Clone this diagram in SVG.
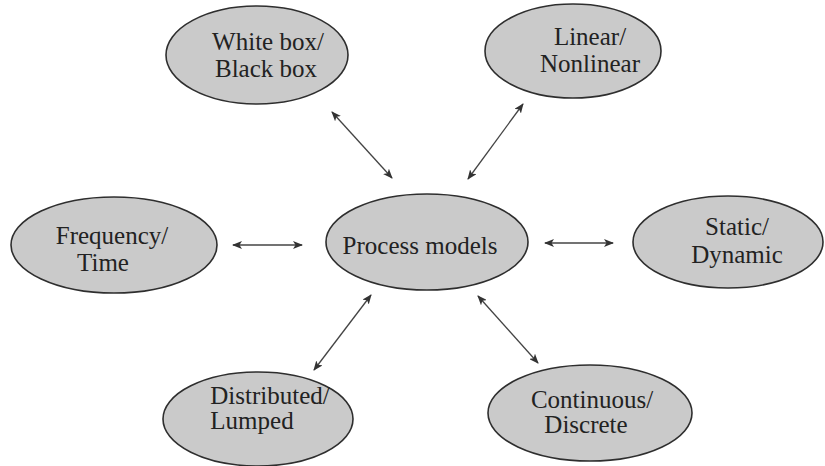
<svg xmlns="http://www.w3.org/2000/svg" width="825" height="466" viewBox="0 0 825 466">
  <style>
    .node ellipse { fill: #cacaca; stroke: #2e2e2e; stroke-width: 1.6; }
    .node text { font-family: "Liberation Serif", "Times New Roman", serif; font-size: 25px; fill: #222; text-anchor: middle; }
    .link { stroke: #444; stroke-width: 1.3; fill: none; marker-start: url(#head); marker-end: url(#head); }
  </style>
  <defs>
    <marker id="head" viewBox="0 0 10 8" refX="9" refY="4" markerWidth="10" markerHeight="8" markerUnits="userSpaceOnUse" orient="auto-start-reverse">
      <path d="M0,0 L10,4 L0,8 L2.5,4 Z" fill="#333"/>
    </marker>
  </defs>
  <rect width="825" height="466" fill="#ffffff"/>

  <g id="connectors">
    <line class="link" x1="332" y1="112" x2="392" y2="178"/>
    <line class="link" x1="523" y1="104" x2="468" y2="179"/>
    <line class="link" x1="233" y1="245" x2="302" y2="245"/>
    <line class="link" x1="545" y1="243" x2="613" y2="243"/>
    <line class="link" x1="371" y1="295" x2="314" y2="370"/>
    <line class="link" x1="478" y1="296" x2="538" y2="363"/>
  </g>

  <g id="process-models" class="node">
    <ellipse cx="427" cy="242" rx="101" ry="48"/>
    <text x="420" y="254">Process models</text>
  </g>

  <g id="white-black-box" class="node">
    <ellipse cx="257" cy="55" rx="91" ry="49"/>
    <text x="268" y="50">White box/</text>
    <text x="266" y="77">Black box</text>
  </g>

  <g id="linear-nonlinear" class="node">
    <ellipse cx="573" cy="51" rx="88" ry="47"/>
    <text x="590" y="45">Linear/</text>
    <text x="590" y="72">Nonlinear</text>
  </g>

  <g id="frequency-time" class="node">
    <ellipse cx="114" cy="245" rx="103" ry="48"/>
    <text x="112" y="244">Frequency/</text>
    <text x="103" y="271">Time</text>
  </g>

  <g id="static-dynamic" class="node">
    <ellipse cx="728" cy="242" rx="95" ry="46"/>
    <text x="737" y="235">Static/</text>
    <text x="737" y="263">Dynamic</text>
  </g>

  <g id="distributed-lumped" class="node">
    <ellipse cx="258" cy="419" rx="95" ry="47"/>
    <text x="270" y="404">Distributed/</text>
    <text x="252" y="429">Lumped</text>
  </g>

  <g id="continuous-discrete" class="node">
    <ellipse cx="590" cy="413" rx="102" ry="48"/>
    <text x="592" y="408">Continuous/</text>
    <text x="586" y="433">Discrete</text>
  </g>
</svg>
